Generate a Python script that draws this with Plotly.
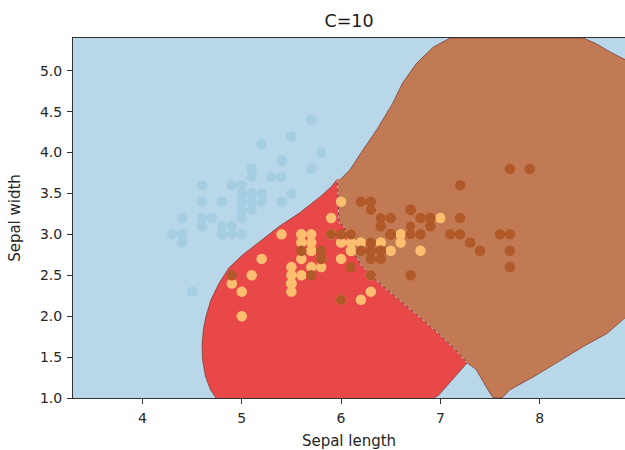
import plotly.graph_objects as go

# ---------------- data ----------------
sepal_length = [
    5.1, 4.9, 4.7, 4.6, 5.0, 5.4, 4.6, 5.0, 4.4, 4.9, 5.4, 4.8, 4.8, 4.3, 5.8, 5.7, 5.4, 5.1, 5.7, 5.1,
    5.4, 5.1, 4.6, 5.1, 4.8, 5.0, 5.0, 5.2, 5.2, 4.7, 4.8, 5.4, 5.2, 5.5, 4.9, 5.0, 5.5, 4.9, 4.4, 5.1,
    5.0, 4.5, 4.4, 5.0, 5.1, 4.8, 5.1, 4.6, 5.3, 5.0,
    7.0, 6.4, 6.9, 5.5, 6.5, 5.7, 6.3, 4.9, 6.6, 5.2, 5.0, 5.9, 6.0, 6.1, 5.6, 6.7, 5.6, 5.8, 6.2, 5.6,
    5.9, 6.1, 6.3, 6.1, 6.4, 6.6, 6.8, 6.7, 6.0, 5.7, 5.5, 5.5, 5.8, 6.0, 5.4, 6.0, 6.7, 6.3, 5.6, 5.5,
    5.5, 6.1, 5.8, 5.0, 5.6, 5.7, 5.7, 6.2, 5.1, 5.7,
    6.3, 5.8, 7.1, 6.3, 6.5, 7.6, 4.9, 7.3, 6.7, 7.2, 6.5, 6.4, 6.8, 5.7, 5.8, 6.4, 6.5, 7.7, 7.7, 6.0,
    6.9, 5.6, 7.7, 6.3, 6.7, 7.2, 6.2, 6.1, 6.4, 7.2, 7.4, 7.9, 6.4, 6.3, 6.1, 7.7, 6.3, 6.4, 6.0, 6.9,
    6.7, 6.9, 5.8, 6.8, 6.7, 6.7, 6.3, 6.5, 6.2, 5.9,
]
sepal_width = [
    3.5, 3.0, 3.2, 3.1, 3.6, 3.9, 3.4, 3.4, 2.9, 3.1, 3.7, 3.4, 3.0, 3.0, 4.0, 4.4, 3.9, 3.5, 3.8, 3.8,
    3.4, 3.7, 3.6, 3.3, 3.4, 3.0, 3.4, 3.5, 3.4, 3.2, 3.1, 3.4, 4.1, 4.2, 3.1, 3.2, 3.5, 3.6, 3.0, 3.4,
    3.5, 2.3, 3.2, 3.5, 3.8, 3.0, 3.8, 3.2, 3.7, 3.3,
    3.2, 3.2, 3.1, 2.3, 2.8, 2.8, 3.3, 2.4, 2.9, 2.7, 2.0, 3.0, 2.2, 2.9, 2.9, 3.1, 3.0, 2.7, 2.2, 2.5,
    3.2, 2.8, 2.5, 2.8, 2.9, 3.0, 2.8, 3.0, 2.9, 2.6, 2.4, 2.4, 2.7, 2.7, 3.0, 3.4, 3.1, 2.3, 3.0, 2.5,
    2.6, 3.0, 2.6, 2.3, 2.7, 3.0, 2.9, 2.9, 2.5, 2.8,
    3.3, 2.7, 3.0, 2.9, 3.0, 3.0, 2.5, 2.9, 2.5, 3.6, 3.2, 2.7, 3.0, 2.5, 2.8, 3.2, 3.0, 3.8, 2.6, 2.2,
    3.2, 2.8, 2.8, 2.7, 3.3, 3.2, 2.8, 3.0, 2.8, 3.0, 2.8, 3.8, 2.8, 2.8, 2.6, 3.0, 3.4, 3.1, 3.0, 3.1,
    3.1, 3.1, 2.7, 3.2, 3.3, 3.0, 2.5, 3.0, 3.4, 3.0,
]
species = [0] * 50 + [1] * 50 + [2] * 50

# decision-region outlines
red_left_x = [4.74, 4.685, 4.635, 4.605, 4.60, 4.615, 4.64, 4.69, 4.77, 4.87, 5.01, 5.18, 5.38, 5.58, 5.79, 5.90]
red_left_y = [1.00, 1.10, 1.26, 1.47, 1.65, 1.85, 2.00, 2.20, 2.40, 2.59, 2.75, 2.91, 3.10, 3.26, 3.46, 3.58]
shared_x = [5.96, 5.97, 5.98, 6.03, 6.08, 6.13, 6.21, 6.35, 6.55, 6.78, 6.98, 7.15, 7.27]
shared_y = [3.67, 3.45, 3.14, 3.10, 2.90, 2.77, 2.61, 2.44, 2.24, 2.00, 1.79, 1.59, 1.43]
red_bottom_x = [7.12, 6.98, 6.93]
red_bottom_y = [1.22, 1.03, 1.00]

brown_top_x = [6.00, 6.09, 6.22, 6.36, 6.52, 6.62, 6.76, 6.93, 7.10, 8.44, 8.57, 8.71, 8.87, 8.95]
brown_top_y = [3.68, 3.79, 4.03, 4.28, 4.60, 4.85, 5.09, 5.29, 5.40, 5.40, 5.33, 5.23, 5.13, 5.10]
brown_right_x = [8.95, 8.86, 8.68, 8.44, 8.17, 7.94, 7.70, 7.62, 7.54, 7.52, 7.46, 7.36]
brown_right_y = [1.90, 1.98, 1.79, 1.63, 1.43, 1.26, 1.10, 1.00, 1.00, 1.02, 1.14, 1.35]

title = "C=10"
x_label = "Sepal length"
y_label = "Sepal width"
x_ticks = [4, 5, 6, 7, 8]
y_ticks = [1.0, 1.5, 2.0, 2.5, 3.0, 3.5, 4.0, 4.5, 5.0]

# ---------------- style ----------------
bg_blue = "#b8d8e9"
fill_red = "#e94849"
fill_brown = "#c17a53"
point_colors = {0: "#a6cee3", 1: "#fdbf6f", 2: "#b15928"}
edge_col = "rgba(125,55,45,0.75)"
font_family = "DejaVu Sans, Verdana, sans-serif"

fig = go.Figure()

# brown region
bx = brown_top_x + brown_right_x + shared_x[::-1]
by = brown_top_y + brown_right_y + shared_y[::-1]
fig.add_trace(go.Scatter(x=bx, y=by, mode="lines", fill="toself", fillcolor=fill_brown,
                         line=dict(color=edge_col, width=1), hoverinfo="skip", showlegend=False))
# red region
rx = red_left_x + shared_x + red_bottom_x
ry = red_left_y + shared_y + red_bottom_y
fig.add_trace(go.Scatter(x=rx, y=ry, mode="lines", fill="toself", fillcolor=fill_red,
                         line=dict(color=edge_col, width=1), hoverinfo="skip", showlegend=False))
# shared boundary highlight
fig.add_trace(go.Scatter(x=shared_x, y=shared_y, mode="lines",
                         line=dict(color="rgba(245,200,215,0.9)", width=1, dash="dot"),
                         hoverinfo="skip", showlegend=False))

# points
fig.add_trace(go.Scatter(
    x=sepal_length, y=sepal_width, mode="markers",
    marker=dict(size=10.5, color=[point_colors[s] for s in species], line=dict(width=0)),
    showlegend=False))

fig.update_layout(
    width=625, height=450,
    margin=dict(l=73, r=0, t=38, b=52, autoexpand=False),
    paper_bgcolor="white", plot_bgcolor=bg_blue,
    font=dict(family=font_family, color="#262626", size=14),
    title=dict(text=title, x=0.5, xref="paper", y=1 - 21 / 450, yref="container",
               xanchor="center", yanchor="middle", font=dict(size=17.5, color="#1a1a1a")),
)
fig.update_xaxes(
    range=[3.3, 8.86], tickvals=x_ticks, ticktext=[str(v) for v in x_ticks],
    showgrid=False, zeroline=False, ticks="outside", ticklen=5, tickwidth=1, tickcolor="#333",
    showline=True, linecolor="#333", linewidth=1, mirror=True, automargin=False,
    ticklabelstandoff=2,
    title=dict(text=x_label, font=dict(size=15), standoff=10), tickfont=dict(size=14),
)
fig.update_yaxes(
    range=[1.0, 5.4], tickvals=y_ticks, ticktext=[f"{v:.1f}" for v in y_ticks],
    showgrid=False, zeroline=False, ticks="outside", ticklen=5, tickwidth=1, tickcolor="#333",
    showline=True, linecolor="#333", linewidth=1, mirror=False, automargin=False,
    ticklabelstandoff=2,
    title=dict(text=y_label, font=dict(size=15), standoff=15), tickfont=dict(size=14),
)

fig.write_html(
    "out.html",
    config={"displayModeBar": False},
    post_script="document.body.style.margin='0px';document.body.style.overflow='hidden';",
)
